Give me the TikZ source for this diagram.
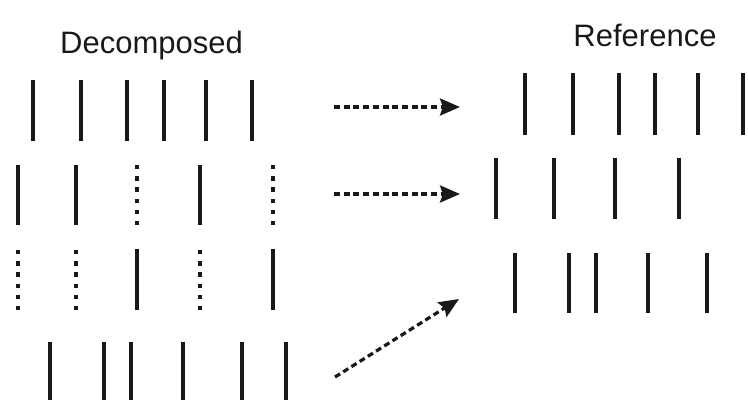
\documentclass[tikz,border=0pt]{standalone}
\usepackage{fontspec}
\setmainfont{Liberation Sans}
\usetikzlibrary{arrows.meta}
\begin{document}
\begin{tikzpicture}[x=1pt,y=-1pt,
  bar/.style={line width=4.5pt,draw=black!90},
  dotbar/.style={line width=4.5pt,draw=black!90,dash pattern=on 4.3pt off 6.9pt},
  conn/.style={line width=3.2pt,draw=black!90,dash pattern=on 6pt off 3.7pt,
    -{Stealth[length=20pt,width=17pt,inset=3pt,fill=black!90]}},
  title/.style={font=\fontsize{31}{36}\selectfont,text=black!90,anchor=base,inner sep=0pt}]
\useasboundingbox (0,0) rectangle (748,400);
\node[title] (dec) at (151.5,53) {Decomposed};
\node[title] (ref) at (645,46) {Reference};
% left row 1
\foreach \x in {33,81,127,164,206,252} \draw[bar] (\x,80) -- (\x,141);
% left row 2
\foreach \x in {18,76,200} \draw[bar] (\x,165) -- (\x,225);
\foreach \x in {137,273} \draw[dotbar] (\x,165) -- (\x,225);
% left row 3
\foreach \x in {137,273} \draw[bar] (\x,249) -- (\x,310);
\foreach \x in {18,76,200} \draw[dotbar] (\x,250) -- (\x,310);
% left row 4
\foreach \x in {50,104,131,183,242,286} \draw[bar] (\x,342) -- (\x,400);
% right row 1
\foreach \x in {525,573,619,655,698,743} \draw[bar] (\x,73) -- (\x,135);
% right row 2
\foreach \x in {496,554,615,679} \draw[bar] (\x,158) -- (\x,219);
% right row 3
\foreach \x in {515,569,596,648,707} \draw[bar] (\x,253) -- (\x,313);
% arrows
\coordinate (a1s) at (334,107); \coordinate (a1e) at (460,107);
\coordinate (a2s) at (334,194); \coordinate (a2e) at (460,194);
\coordinate (a3s) at (335,377); \coordinate (a3e) at (459,299);
\draw[conn] (a1s) -- (a1e);
\draw[conn] (a2s) -- (a2e);
\draw[conn] (a3s) -- (a3e);
\end{tikzpicture}
\end{document}
